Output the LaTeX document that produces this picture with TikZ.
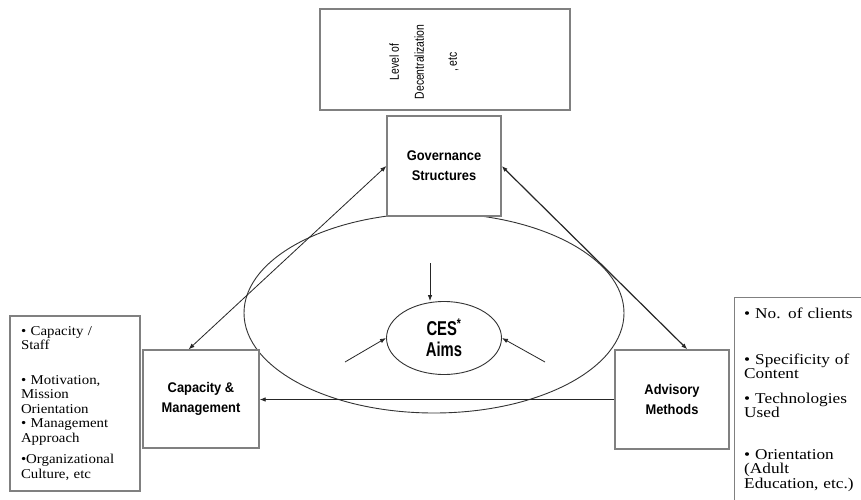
\documentclass[tikz,border=0pt]{standalone}
\usepackage{fontspec}
\usetikzlibrary{arrows.meta,shapes.geometric,calc}
\newfontfamily\llistfont[FakeStretch=1.1]{Liberation Serif}
\newfontfamily\rlistfont[FakeStretch=1.15]{Liberation Serif}
\newfontfamily\titlefont[FakeStretch=0.92]{Liberation Sans}
\newfontfamily\cesfont[FakeStretch=0.74]{Liberation Sans}
\newfontfamily\rotfont[FakeStretch=0.8]{Liberation Sans}
\begin{document}
\begin{tikzpicture}[x=1pt,y=-1pt,
  >={Latex[length=6pt,width=4.5pt]},
  box/.style={draw=black!50, line width=1.3pt, fill=white, inner sep=0pt, align=center},
  title/.style={font=\titlefont\bfseries\fontsize{14}{20}\selectfont},
  oval/.style={ellipse, draw=black!80, line width=0.9pt, inner sep=0pt},
  conn/.style={draw=black!85, line width=0.8pt}]
\useasboundingbox (0,0) rectangle (861,500);
\clip (0,0) rectangle (861,500);
\fill[white] (0,0) rectangle (861,500);

% big ellipse
\node[oval, minimum width=380, minimum height=200] (big) at (434,313) {};

% top box
\node[box, minimum width=250, minimum height=101] (lvl) at (445,59.5) {};
\node[rotate=90, align=center, inner sep=0pt, font=\rotfont\fontsize{13}{13}\selectfont] (lvltext) at (424,62) {Level of\\[12pt]Decentralization\\[20pt], etc};

% main boxes
\node[box, title, minimum width=114, minimum height=100] (gov) at (444,166) {Governance\\Structures};
\node[box, title, minimum width=116, minimum height=98] (cap) at (201,399) {Capacity \&\\Management};
\node[box, title, minimum width=114, minimum height=99] (adv) at (672,399.5) {Advisory\\Methods};

% CES aims
\node[oval, minimum width=115, minimum height=73, align=center, font=\cesfont\bfseries\fontsize{20}{21}\selectfont] (ces) at (444,338) {CES\textsuperscript{*}\\Aims};

% left list
\node[box, minimum width=130, minimum height=175, align=left, text width=108,
  font=\llistfont\fontsize{13.5}{14.5}\selectfont] (llist) at (75,403.5)
  {• Capacity /\\Staff\\[20pt]• Motivation,\\Mission\\Orientation\\• Management\\Approach\\[7pt]•Organizational\\Culture, etc};

% right list
\node[box, anchor=north west, minimum width=200, minimum height=230] (rbox) at (734,297) {};
\node[anchor=north west, inner sep=0pt, align=left, text width=125,
  font=\rlistfont\fontsize{15}{14.5}\selectfont] (rlist) at (744,308)
  {• No. of clients\\[31pt]• Specificity of\\Content\\[10pt]• Technologies\\Used\\[27pt]• Orientation\\(Adult\\Education, etc.)};

% connectors
\draw[conn, <->] (cap.104) -- (gov.west);
\draw[conn, <->, line width=1.2pt] (gov.east) -- (adv.73);
\draw[conn, ->] (adv.west) -- (adv.west -| cap.east);

\coordinate (t1) at (430,263);
\coordinate (t2) at (345,362);
\coordinate (t3) at (545,362);
\draw[conn, ->] (t1) -- (t1 |- ces.north);
\draw[conn, ->] (t2) -- (ces.west);
\draw[conn, ->] (t3) -- (ces.east);
\end{tikzpicture}
\end{document}
